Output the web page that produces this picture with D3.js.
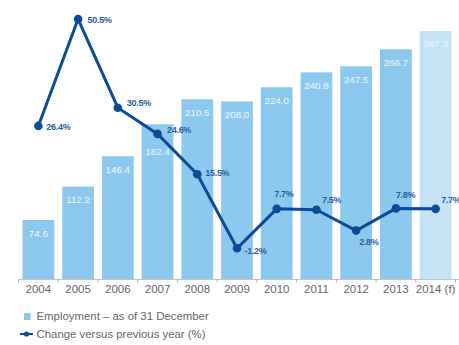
<!DOCTYPE html>
<html>
<head>
<meta charset="utf-8">
<script src="https://cdn.jsdelivr.net/npm/d3@7"></script>
<style>
  html, body { margin: 0; padding: 0; background: #fff; }
  svg { display: block; font-family: "Liberation Sans", Arial, sans-serif; }
</style>
</head>
<body>
<svg id="chart" width="459" height="345"></svg>
<script>
// Headcount at year end (thousands) and year-on-year change (%)
const years = ["2004", "2005", "2006", "2007", "2008", "2009", "2010", "2011", "2012", "2013", "2014 (f)"];
const employment = [74.6, 112.2, 146.4, 182.4, 210.5, 208.0, 224.0, 240.8, 247.5, 266.7, 287.3];
const changePct = [26.4, 50.5, 30.5, 24.6, 15.5, -1.2, 7.7, 7.5, 2.8, 7.8, 7.7];
const forecast = [false, false, false, false, false, false, false, false, false, false, true];

// placement of each percentage label relative to its point: [dx, dy]
const pctLabelOffset = [[8, 1], [9.5, 1], [9, -5], [9.5, -4], [8, -1], [7.5, 3],
                        [-2.5, -15], [5.5, -10], [3, 11.5], [0, -13.5], [5.5, -9.5]];
// distance of each value label's baseline below its bar top (2007 sits lower, clear of the line)
const barLabelDrop = [16.5, 16.5, 16.5, 31, 16.5, 16.5, 16.5, 16.5, 16.5, 16.5, 16.5];

const legendItems = ["Employment \u2013 as of 31 December", "Change versus previous year (%)"];

const svg = d3.select("#chart");
const baseY = 279;

const x = d3.scaleBand().domain(years).range([18.5, 455.5]).paddingInner(0.2).paddingOuter(0.1);
const yBar = d3.scaleLinear().domain([0, 300]).range([286.3, 19.7]);
const yPct = d3.scaleLinear().domain([-10, 60]).range([287.35, -23.1]);

const barColor = "#8dc9ee";
const barColorForecast = "#c6e3f6";
const lineColor = "#0c4b95";

// bars
svg.append("g").selectAll("rect")
  .data(employment)
  .join("rect")
  .attr("x", (d, i) => x(years[i]))
  .attr("y", d => yBar(d))
  .attr("width", x.bandwidth())
  .attr("height", d => baseY - yBar(d))
  .attr("fill", (d, i) => forecast[i] ? barColorForecast : barColor);

// bar value labels
svg.append("g").selectAll("text")
  .data(employment)
  .join("text")
  .attr("x", (d, i) => x(years[i]) + x.bandwidth() / 2)
  .attr("y", (d, i) => yBar(d) + barLabelDrop[i])
  .attr("text-anchor", "middle")
  .attr("font-size", "9.8px")
  .attr("fill", "#eef7fd")
  .text(d => d.toFixed(1));

// category axis with ticks between the bars
const step = x.step();
const axisG = svg.append("g");
axisG.append("line")
  .attr("x1", 18.5).attr("x2", 459)
  .attr("y1", baseY + 0.5).attr("y2", baseY + 0.5)
  .attr("stroke", "#c4c4c4").attr("stroke-width", 1);
const boundaries = years.map(y => x(y) - step * x.paddingInner() / 2)
  .concat([x(years[years.length - 1]) + x.bandwidth() + step * x.paddingInner() / 2]);
axisG.selectAll("line.tick")
  .data(boundaries)
  .join("line")
  .attr("class", "tick")
  .attr("x1", d => d).attr("x2", d => d)
  .attr("y1", baseY + 0.5).attr("y2", baseY + 3.5)
  .attr("stroke", "#b0b0b0");
axisG.selectAll("text")
  .data(years)
  .join("text")
  .attr("x", d => x(d) + x.bandwidth() / 2)
  .attr("y", 293)
  .attr("text-anchor", "middle")
  .attr("font-size", "11.5px")
  .attr("fill", "#666")
  .text(d => d);

// change line
const line = d3.line()
  .x((d, i) => x(years[i]) + x.bandwidth() / 2)
  .y(d => yPct(d));
svg.append("path")
  .datum(changePct)
  .attr("d", line)
  .attr("fill", "none")
  .attr("stroke", lineColor)
  .attr("stroke-width", 3)
  .attr("stroke-linejoin", "round");
svg.append("g").selectAll("circle")
  .data(changePct)
  .join("circle")
  .attr("cx", (d, i) => x(years[i]) + x.bandwidth() / 2)
  .attr("cy", d => yPct(d))
  .attr("r", 4.3)
  .attr("fill", lineColor);
svg.append("g").selectAll("text")
  .data(changePct)
  .join("text")
  .attr("x", (d, i) => x(years[i]) + x.bandwidth() / 2 + pctLabelOffset[i][0])
  .attr("y", (d, i) => yPct(d) + pctLabelOffset[i][1])
  .attr("dy", "0.35em")
  .attr("font-size", "9px")
  .attr("font-weight", "bold")
  .attr("letter-spacing", "-0.3px")
  .attr("fill", "#2a5d9f")
  .text(d => d.toFixed(1) + "%");

// legend
const legend = svg.append("g");
legend.append("rect")
  .attr("x", 24).attr("y", 313).attr("width", 6.5).attr("height", 7)
  .attr("fill", barColor);
legend.append("line")
  .attr("x1", 20).attr("x2", 33).attr("y1", 334).attr("y2", 334)
  .attr("stroke", lineColor).attr("stroke-width", 2);
legend.append("circle")
  .attr("cx", 26.5).attr("cy", 334).attr("r", 2.6).attr("fill", lineColor);
legend.selectAll("text")
  .data(legendItems)
  .join("text")
  .attr("x", 36.5)
  .attr("y", (d, i) => 316.5 + i * 17.5)
  .attr("dy", "0.35em")
  .attr("font-size", "11.4px")
  .attr("fill", "#666")
  .text(d => d);
</script>
</body>
</html>
